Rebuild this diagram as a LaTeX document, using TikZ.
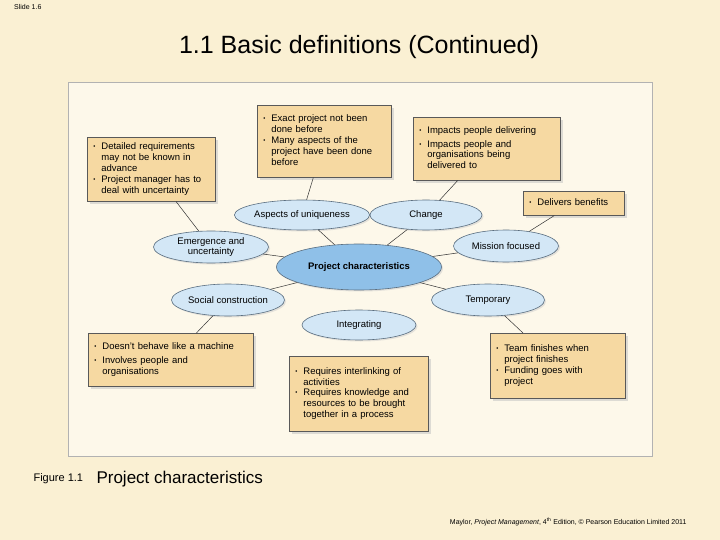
\documentclass[tikz,border=0pt]{standalone}
\usepackage{fontspec}
\usepackage{array}
\setmainfont{Liberation Sans}
\usetikzlibrary{shapes.geometric,shadows}
\definecolor{bg}{HTML}{FAF0D3}
\definecolor{panel}{HTML}{FDF8EA}
\definecolor{tan}{HTML}{F6D9A2}
\definecolor{lblue}{HTML}{D3E7F6}
\definecolor{mblue}{HTML}{8FC0E8}
\definecolor{edge}{HTML}{5A6E80}
\newcommand{\bl}[2]{\begin{tabular}[t]{@{}l@{\hspace{6pt}}>{\raggedright\arraybackslash\hyphenpenalty=10000}p{#1}@{}}#2\end{tabular}}
\newcommand{\bu}{{\fontsize{6}{6}\selectfont\raisebox{1pt}{•}}}
\begin{document}
\begin{tikzpicture}[x=1pt,y=-1pt,
 box/.style={draw=gray!70!black,fill=tan,line width=0.6pt,anchor=north west,inner xsep=6pt,inner ysep=5pt,font=\fontsize{9.5}{10.8}\selectfont,drop shadow={shadow xshift=2.5pt,shadow yshift=-2.5pt,fill=gray!50}},
 ell/.style={ellipse,draw=edge,fill=lblue,line width=0.6pt,inner sep=0pt,font=\fontsize{9.5}{10.5}\selectfont,align=center,drop shadow={shadow xshift=1.5pt,shadow yshift=-1.5pt,fill=gray!40}},
 ln/.style={draw=black!80,line width=0.5pt}]
\useasboundingbox (0,0) rectangle (720,540);
\fill[bg] (0,0) rectangle (720,540);
\node[anchor=north west,font=\fontsize{7}{8}\selectfont,inner sep=0] (slide) at (14,4) {Slide 1.6};
\node[font=\fontsize{25}{28}\selectfont] (title) at (359,47) {1.1 Basic definitions (Continued)};
\node[draw=gray!60,fill=panel,minimum width=584pt,minimum height=374pt,anchor=north west,line width=0.8pt] (panel) at (68,82) {};
% boxes
\node[box,text width=116pt,minimum height=63pt] (A) at (87,137) {\bl{114pt}{\bu & Detailed requirements may not be known in advance\\[3pt] \bu & Project manager has to deal with uncertainty}};
\node[box,text width=122pt,minimum height=72pt] (B) at (257,105) {\bl{110pt}{\bu & Exact project not been done before\\[3pt] \bu & Many aspects of the project have been done before}};
\node[box,text width=135pt,minimum height=63pt] (C) at (413,117) {\bl{118pt}{\bu & Impacts people delivering\\[3pt] \bu & Impacts people and organisations being delivered to}};
\node[box,text width=89pt,minimum height=24pt,inner ysep=4pt] (D) at (523,191) {\bl{80pt}{\bu & Delivers benefits}};
\node[box,text width=153pt,minimum height=53pt] (E) at (88,333) {\bl{140pt}{\bu & Doesn't behave like a machine\\[3pt] \bu & Involves people and organisations}};
\node[box,text width=127pt,minimum height=75pt] (F) at (289,356) {\bl{112pt}{\bu & Requires interlinking of activities\\[3pt] \bu & Requires knowledge and resources to be brought together in a process}};
\node[box,text width=123pt,minimum height=65pt] (G) at (490,333) {\bl{95pt}{\bu & Team finishes when project finishes\\[3pt] \bu & Funding goes with project}};
% ellipses
\node[ell,fill=mblue,minimum width=165pt,minimum height=46pt,font=\bfseries\fontsize{9.5}{10.5}\selectfont] (pc) at (359,267) {Project characteristics};
\node[ell,minimum width=112pt,minimum height=30pt] (asp) at (302,215) {Aspects of uniqueness};
\node[ell,minimum width=112pt,minimum height=30pt] (chg) at (426,215) {Change};
\node[ell,minimum width=115pt,minimum height=32pt] (emg) at (211,247) {Emergence and\\uncertainty};
\node[ell,minimum width=105pt,minimum height=32pt] (mis) at (506,246) {Mission focused};
\node[ell,minimum width=113pt,minimum height=32pt] (soc) at (228,300) {Social construction};
\node[ell,minimum width=113pt,minimum height=32pt] (tmp) at (488,300) {Temporary};
\node[ell,minimum width=114pt,minimum height=30pt] (int) at (359,325) {Integrating};
% connectors
\draw[ln] (A) -- (emg);
\draw[ln] (B) -- (asp);
\draw[ln] (C) -- (chg);
\draw[ln] (D) -- (mis);
\draw[ln] (E) -- (soc);
\draw[ln] (G) -- (tmp);
\draw[ln] (pc) -- (asp);
\draw[ln] (pc) -- (chg);
\draw[ln] (pc) -- (emg);
\draw[ln] (pc) -- (mis);
\draw[ln] (pc) -- (soc);
\draw[ln] (pc) -- (tmp);
\node[font=\fontsize{11}{12}\selectfont,anchor=west] (fig) at (30,479) {Figure 1.1};
\node[font=\fontsize{17}{19}\selectfont,anchor=west] (cap) at (93,479) {Project characteristics};
\node[font=\fontsize{7}{8}\selectfont,anchor=east] (foot) at (690,522) {Maylor, \textit{Project Management}, 4\textsuperscript{th} Edition, © Pearson Education Limited 2011};
\end{tikzpicture}
\end{document}
